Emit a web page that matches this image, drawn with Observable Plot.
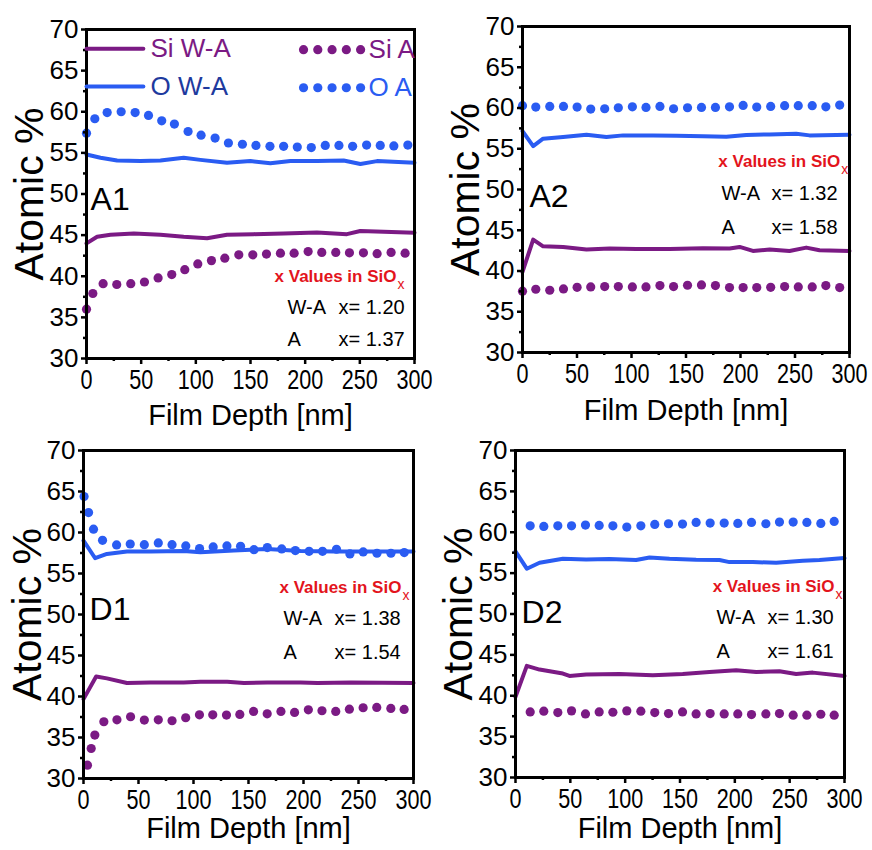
<!DOCTYPE html>
<html>
<head>
<meta charset="utf-8">
<script src="https://cdn.jsdelivr.net/npm/d3@7"></script>
<script src="https://cdn.jsdelivr.net/npm/@observablehq/plot@0.6"></script>
<style>
  body { margin: 0; background: #fff; }
  #fig { position: relative; width: 872px; height: 850px; overflow: hidden; }
  #fig svg { position: absolute; overflow: visible; background: none; }
</style>
</head>
<body>
<div id="fig"></div>
<script>
// ---- Panel A1 ----
const a1SiWA_depth = [0, 9.7, 21.9, 43.3, 67.6, 88.9, 110.3, 128.5, 152.9, 180.3, 210.8, 238.2, 250.4, 271.7, 300];
const a1SiWA = [44.0, 44.8, 45.05, 45.2, 45.05, 44.8, 44.63, 45.05, 45.12, 45.2, 45.33, 45.12, 45.5, 45.4, 45.3];
const a1OWA_depth = [0, 12.8, 28, 49.3, 67.6, 88.9, 104.2, 128.5, 149.9, 168.2, 186.5, 210.9, 235.2, 250.5, 265.7, 300];
const a1OWA = [54.8, 54.4, 54.07, 54.0, 54.07, 54.4, 54.15, 53.8, 54.0, 53.74, 54.0, 54.0, 54.07, 53.65, 54.0, 53.8];
const a1SiA_depth = [0, 5.8, 15.2, 27.7, 40.5, 53, 65.5, 78, 89.9, 101.8, 114.3, 126.5, 139.3, 152.1, 164.6, 177.4, 189.9, 202.7, 215.2, 228, 240.5, 253.3, 265.8, 278.6, 291.4];
const a1SiA = [36.0, 37.9, 39.1, 39.0, 39.1, 39.3, 39.8, 40.2, 40.8, 41.5, 41.9, 42.2, 42.6, 42.6, 42.7, 42.8, 42.8, 43.0, 42.9, 42.9, 42.85, 42.85, 42.75, 42.9, 42.8];
const a1OA_depth = [0, 7.6, 18.9, 31.7, 44.5, 56.7, 68.8, 80.4, 92.9, 104.8, 117.6, 129.8, 142.6, 155, 167.8, 180.3, 192.8, 205.6, 218.4, 230.9, 243.4, 256.2, 268.7, 281.1, 293.9];
const a1OA = [57.4, 59.15, 59.9, 60.0, 59.9, 59.55, 58.9, 58.5, 57.6, 57.15, 56.8, 56.2, 56.05, 55.9, 55.8, 55.8, 55.7, 55.65, 55.9, 55.9, 55.8, 55.95, 55.9, 55.85, 55.95];

// ---- Panel A2 ----
const a2SiWA_depth = [0, 9.8, 18.9, 37.3, 58.7, 80, 104.5, 135, 165.6, 190, 199.2, 211.4, 226.7, 245, 260.3, 272.5, 300];
const a2SiWA = [39.89, 43.85, 43.03, 42.95, 42.63, 42.75, 42.71, 42.71, 42.79, 42.75, 42.95, 42.46, 42.63, 42.46, 42.87, 42.54, 42.46];
const a2OWA_depth = [0, 9.8, 18.9, 37.3, 58.7, 77, 92.3, 119.8, 141.2, 165.6, 187, 205.3, 226.7, 251.1, 263.3, 300];
const a2OWA = [57.17, 55.33, 56.23, 56.43, 56.72, 56.43, 56.64, 56.64, 56.6, 56.52, 56.48, 56.68, 56.76, 56.84, 56.64, 56.72];
const a2A_depth = [0, 12.2, 25, 37.6, 50.1, 62.6, 75.4, 87.9, 100.8, 113.3, 126.1, 138.6, 151.4, 164.2, 177, 189.9, 202.4, 214.9, 227.7, 240.5, 253, 265.8, 278.3, 291];
const a2SiA = [37.52, 37.76, 37.64, 37.8, 38.0, 38.05, 38.09, 38.09, 38.05, 38.05, 38.21, 38.09, 38.25, 38.29, 38.21, 37.97, 37.97, 37.97, 38.0, 38.09, 38.05, 38.05, 38.21, 37.97];
const a2OA = [60.28, 60.11, 60.19, 60.19, 60.11, 59.87, 59.91, 60.03, 60.15, 60.07, 60.19, 59.91, 60.03, 60.07, 60.07, 60.15, 60.32, 60.11, 60.19, 60.28, 60.28, 60.28, 60.15, 60.36];

// ---- Panel D1 ----
const d1SiWA_depth = [0, 11.5, 21.3, 39.5, 60.7, 91.1, 106.3, 130.6, 145.8, 167, 197.4, 212.6, 243, 300];
const d1SiWA = [39.68, 42.45, 42.21, 41.64, 41.72, 41.72, 41.8, 41.8, 41.64, 41.72, 41.72, 41.64, 41.72, 41.64];
const d1OWA_depth = [0, 10.6, 21.3, 39.5, 60.7, 91.1, 106.3, 136.7, 167, 197.4, 227.8, 258.1, 300];
const d1OWA = [59.01, 56.86, 57.39, 57.67, 57.67, 57.75, 57.59, 57.79, 58.0, 57.75, 57.67, 57.67, 57.67];
const d1SiA_depth = [3.6, 7.0, 10.3, 18.5, 30.4, 42.8, 55.3, 68, 80.5, 92.9, 105.4, 117.5, 130, 142.1, 154.6, 167, 179.5, 191.9, 204.4, 216.8, 229.3, 241.7, 254.2, 266.6, 279.4, 291.5];
const d1SiA = [31.63, 33.66, 35.29, 36.92, 37.16, 37.53, 37.12, 37.16, 37.04, 37.41, 37.77, 37.77, 37.73, 37.81, 38.18, 37.89, 38.18, 38.06, 38.38, 38.26, 38.18, 38.46, 38.63, 38.67, 38.55, 38.42];
const d1OA_depth = [0.5, 4.6, 9.1, 17.3, 30.1, 42.5, 55.3, 68, 80.5, 93, 105.5, 117.9, 130.4, 142.8, 155, 167.1, 180.2, 192.6, 205.1, 217.3, 230, 242.2, 254.3, 266.8, 279.5, 291.6];
const d1OA = [64.38, 62.43, 60.4, 59.05, 58.48, 58.6, 58.52, 58.73, 58.52, 58.36, 58.04, 58.24, 58.36, 58.32, 57.91, 58.16, 58.0, 57.79, 57.71, 57.71, 57.96, 57.39, 57.63, 57.47, 57.47, 57.55];

// ---- Panel D2 ----
const d2SiWA_depth = [0, 10.3, 21.9, 43.2, 49.2, 64.4, 94.8, 125.2, 152.5, 176.9, 201.2, 219.5, 240.7, 255.9, 271.1, 300];
const d2SiWA = [39.86, 43.65, 43.2, 42.71, 42.42, 42.59, 42.67, 42.5, 42.67, 42.91, 43.12, 42.91, 42.99, 42.67, 42.83, 42.42];
const d2OWA_depth = [0, 10.3, 21.9, 43.2, 64.4, 85.7, 110, 122.2, 140.4, 164.7, 186, 195.1, 216.4, 237.7, 262, 277.2, 300];
const d2OWA = [57.66, 55.54, 56.27, 56.76, 56.68, 56.72, 56.6, 56.92, 56.76, 56.64, 56.6, 56.35, 56.35, 56.27, 56.52, 56.6, 56.84];
const d2A_depth = [13.4, 25.8, 38.6, 51.1, 63.8, 76.3, 88.8, 101.5, 114.3, 127, 139.5, 152.3, 164.7, 177.5, 190.3, 202.7, 215.2, 228.3, 240.7, 253.2, 265.7, 278.4, 290.6];
const d2SiA = [38.02, 38.11, 37.94, 38.15, 37.78, 38.02, 37.98, 38.15, 38.11, 37.94, 37.82, 38.02, 37.78, 37.82, 37.78, 37.78, 37.7, 37.78, 37.82, 37.62, 37.62, 37.74, 37.62];
const d2OA = [60.79, 60.71, 60.79, 60.79, 60.88, 60.84, 60.79, 60.63, 60.79, 60.96, 61.04, 61.0, 61.2, 61.12, 61.12, 61.08, 61.2, 61.04, 61.24, 61.24, 61.2, 61.08, 61.32];

// ---- Labels ----
const panelNames = ["A1", "A2", "D1", "D2"];
const xValueWA = ["1.20", "1.32", "1.38", "1.30"];
const xValueA = ["1.37", "1.58", "1.54", "1.61"];
const legendLabels = ["Si W-A", "O W-A", "Si A", "O A"];
const xTicks = [0, 50, 100, 150, 200, 250, 300];
const yTicks = [30, 35, 40, 45, 50, 55, 60, 65, 70];

const PURPLE = "#7b1a84";
const BLUE = "#2a5cf2";
const DARKBLUE = "#1e3a9e";
const RED = "#e3141c";
const SANS = '"Liberation Sans", Arial, sans-serif';

const pts = (xs, ys) => xs.map((x, i) => ({x, y: ys[i]}));

const panels = [
  {
    series: {siWA: pts(a1SiWA_depth, a1SiWA), oWA: pts(a1OWA_depth, a1OWA),
             siA: pts(a1SiA_depth, a1SiA), oA: pts(a1OA_depth, a1OA)},
    pos: {left: 0, top: 0}, height: 425,
    margin: {left: 86, right: 22, top: 29, bottom: 67},
    xTitleDy: 66, yTitleDx: -44,
    nameAt: [3.7, 48.0],
    note: {redEnd: 283.5, redY: 39.36, keyX: 183.8, valX: 230.5, row1: 35.47, row2: 31.58},
    legend: true
  },
  {
    series: {siWA: pts(a2SiWA_depth, a2SiWA), oWA: pts(a2OWA_depth, a2OWA),
             siA: pts(a2A_depth, a2SiA), oA: pts(a2A_depth, a2OA)},
    pos: {left: 436, top: 0}, height: 425,
    margin: {left: 86, right: 23, top: 26, bottom: 73},
    xTitleDy: 67, yTitleDx: -44,
    nameAt: [6.4, 47.8],
    note: {redEnd: 291.5, redY: 52.7, keyX: 182.6, valX: 228.4, row1: 48.77, row2: 44.6}
  },
  {
    series: {siWA: pts(d1SiWA_depth, d1SiWA), oWA: pts(d1OWA_depth, d1OWA),
             siA: pts(d1SiA_depth, d1SiA), oA: pts(d1OA_depth, d1OA)},
    pos: {left: 0, top: 425}, height: 425,
    margin: {left: 83, right: 23, top: 25, bottom: 72},
    xTitleDy: 59, yTitleDx: -43,
    nameAt: [5.5, 49.27],
    note: {redEnd: 289, redY: 52.68, keyX: 181.8, valX: 228.2, row1: 48.78, row2: 44.63}
  },
  {
    series: {siWA: pts(d2SiWA_depth, d2SiWA), oWA: pts(d2OWA_depth, d2OWA),
             siA: pts(d2A_depth, d2SiA), oA: pts(d2A_depth, d2OA)},
    pos: {left: 436, top: 425}, height: 425,
    margin: {left: 79, right: 28, top: 25, bottom: 73},
    xTitleDy: 60, yTitleDx: -44,
    nameAt: [5.5, 48.84],
    note: {redEnd: 290.9, redY: 52.63, keyX: 183.3, valX: 229.8, row1: 48.72, row2: 44.56}
  }
];

// Legend block drawn inside the first panel (data units of that panel)
function legendMarks() {
  const rowsY = [67.65, 63.07];
  const lineRows = [
    {label: legendLabels[0], stroke: PURPLE, text: PURPLE, y: rowsY[0]},
    {label: legendLabels[1], stroke: BLUE, text: DARKBLUE, y: rowsY[1]}
  ];
  const dotRows = [
    {label: legendLabels[2], fill: PURPLE, text: PURPLE, y: rowsY[0] - 0.1},
    {label: legendLabels[3], fill: BLUE, text: BLUE, y: rowsY[1] - 0.15}
  ];
  const marks = [];
  for (const r of lineRows) {
    marks.push(Plot.line([{x: 0, y: r.y}, {x: 52, y: r.y}], {x: "x", y: "y", stroke: r.stroke, strokeWidth: 4}));
    marks.push(Plot.text([r], {x: () => 58.5, y: "y", text: "label", fill: r.text, textAnchor: "start",
      lineAnchor: "middle", fontSize: 26, fontFamily: SANS}));
  }
  for (const r of dotRows) {
    const dots = d3.range(5).map(i => ({x: 198.5 + i * 13.05, y: r.y}));
    marks.push(Plot.dot(dots, {x: "x", y: "y", r: 4.6, fill: r.fill, stroke: "none"}));
    marks.push(Plot.text([r], {x: () => 258, y: "y", text: "label", fill: r.text, textAnchor: "start",
      lineAnchor: "middle", fontSize: 26, fontFamily: SANS}));
  }
  return marks;
}

function drawPanel(p, k) {
  const n = p.note;
  const svg = Plot.plot({
    width: 436,
    height: p.height,
    marginLeft: p.margin.left,
    marginRight: p.margin.right,
    marginTop: p.margin.top,
    marginBottom: p.margin.bottom,
    style: {fontFamily: SANS, color: "black", background: "none", overflow: "visible"},
    x: {domain: [0, 300], label: null},
    y: {domain: [30, 70], label: null},
    marks: [
      // measured profiles
      Plot.line(p.series.siWA, {x: "x", y: "y", stroke: PURPLE, strokeWidth: 4, strokeLinejoin: "round"}),
      Plot.line(p.series.oWA, {x: "x", y: "y", stroke: BLUE, strokeWidth: 4, strokeLinejoin: "round"}),
      Plot.dot(p.series.siA, {x: "x", y: "y", r: 4.6, fill: PURPLE, stroke: "none"}),
      Plot.dot(p.series.oA, {x: "x", y: "y", r: 4.6, fill: BLUE, stroke: "none"}),

      // frame and axes
      Plot.frame({stroke: "black", strokeWidth: 3}),
      Plot.axisX({ticks: xTicks, tickSize: 6, tickPadding: 5, strokeWidth: 2.5, label: null,
        fontSize: 27, fontFamily: SANS, fill: "black", stroke: "black", ariaLabel: "x-ticks"}),
      Plot.axisX({ticks: d3.range(25, 300, 50), tickSize: 3, strokeWidth: 2.5, label: null,
        fill: "none", stroke: "black"}),
      Plot.axisY({ticks: yTicks, tickSize: 5, tickPadding: 3, strokeWidth: 2.5, label: null,
        fontSize: 26, fontFamily: SANS, fill: "black", stroke: "black"}),
      Plot.axisY({ticks: d3.range(32.5, 70, 5), tickSize: 3, strokeWidth: 2.5, label: null,
        fill: "none", stroke: "black"}),

      // axis titles
      Plot.text(["Film Depth [nm]"], {frameAnchor: "bottom", dy: p.xTitleDy, lineAnchor: "bottom",
        textAnchor: "middle", fontSize: 29, fontFamily: SANS, fill: "black"}),
      Plot.text(["Atomic %"], {frameAnchor: "left", dx: p.yTitleDx, rotate: -90, lineAnchor: "bottom",
        textAnchor: "middle", fontSize: 41, fontFamily: SANS, fill: "black"}),

      // panel name
      Plot.text([panelNames[k]], {x: () => p.nameAt[0], y: () => p.nameAt[1], textAnchor: "start",
        lineAnchor: "bottom", fontSize: 32, fontFamily: SANS, fill: "black"}),

      // stoichiometry note
      Plot.text(["x Values in SiO"], {x: () => n.redEnd, y: () => n.redY, textAnchor: "end",
        lineAnchor: "bottom", fontSize: 17, fontWeight: "bold", fontFamily: SANS, fill: RED}),
      Plot.text(["x"], {x: () => n.redEnd, y: () => n.redY, dx: 1, dy: 7, textAnchor: "start",
        lineAnchor: "bottom", fontSize: 14, fontFamily: SANS, fill: RED}),
      Plot.text(["W-A"], {x: () => n.keyX, y: () => n.row1, textAnchor: "start", lineAnchor: "bottom",
        fontSize: 20, fontFamily: SANS, fill: "black"}),
      Plot.text(["x= " + xValueWA[k]], {x: () => n.valX, y: () => n.row1, textAnchor: "start",
        lineAnchor: "bottom", fontSize: 20, fontFamily: SANS, fill: "black"}),
      Plot.text(["A"], {x: () => n.keyX, y: () => n.row2, textAnchor: "start", lineAnchor: "bottom",
        fontSize: 20, fontFamily: SANS, fill: "black"}),
      Plot.text(["x= " + xValueA[k]], {x: () => n.valX, y: () => n.row2, textAnchor: "start",
        lineAnchor: "bottom", fontSize: 20, fontFamily: SANS, fill: "black"}),

      ...(p.legend ? legendMarks() : [])
    ]
  });
  // depth tick labels are set in a condensed face: squeeze them horizontally
  svg.querySelectorAll('g[aria-label="x-ticks tick label"] text, g[aria-label="x-axis tick label"] text')
    .forEach(t => {
      if (t.closest("g").getAttribute("fill") === "none") return;
      t.setAttribute("transform", (t.getAttribute("transform") || "") + " scale(0.8,1)");
    });
  svg.style.left = p.pos.left + "px";
  svg.style.top = p.pos.top + "px";
  return svg;
}

const fig = document.getElementById("fig");
panels.forEach((p, k) => fig.appendChild(drawPanel(p, k)));
</script>
</body>
</html>
